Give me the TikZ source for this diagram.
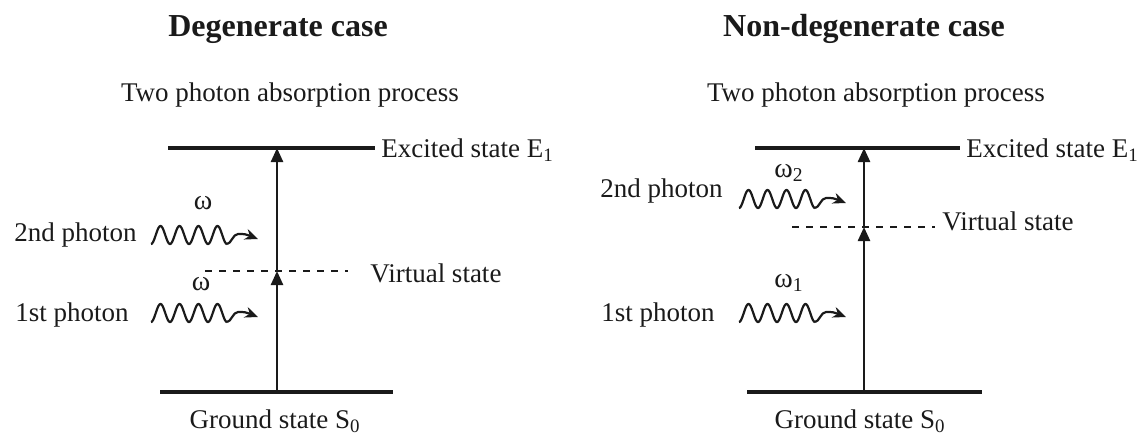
\documentclass[tikz,border=0pt]{standalone}
\usepackage{fontspec}
\setmainfont{Liberation Serif}
\usetikzlibrary{arrows.meta}
\definecolor{ink}{HTML}{1A1A1A}
\newcommand\photonwave[3]{%
  \coordinate (#3) at (#1,#2);
  \draw[wave] plot[domain=0:4,samples=120,smooth] ({#1+19*\x},{#2+9*cos(360*\x)});
  \draw[wave,-{Stealth[length=6.5pt,width=5.5pt]}] ({#1+76},{#2+9}) .. controls ({#1+80},{#2+9}) and ({#1+82},{#2-1}) .. ({#1+87},{#2-1}) .. controls ({#1+94},{#2-1}) .. ({#1+107},{#2+4});
}
\begin{document}
\begin{tikzpicture}[x=0.5pt,y=-0.5pt,
  level/.style={line width=2pt, draw=ink},
  trans/.style={line width=1.2pt, draw=ink, -{Triangle[length=7pt,width=6pt]}},
  virt/.style={line width=1pt, draw=ink, dash pattern=on 3.5pt off 3.5pt},
  wave/.style={line width=1.1pt, draw=ink, line join=round},
  lbl/.style={font=\fontsize{13.5}{16}\selectfont, text=ink, inner sep=0pt},
  ttl/.style={font=\bfseries\fontsize{16}{19}\selectfont, text=ink, inner sep=0pt},
  om/.style={font=\fontsize{14}{16}\selectfont, text=ink, inner sep=0pt}]
\path[use as bounding box] (0,0) rectangle (1140,434);

% ---------- Left: degenerate case ----------
\node[ttl, anchor=base] (Ltitle) at (278,36) {Degenerate case};
\node[lbl, anchor=base] (Lproc) at (290,101) {Two photon absorption process};

\coordinate (LEa) at (168,148); \coordinate (LEb) at (375,148);
\coordinate (LGa) at (160,392); \coordinate (LGb) at (393,392);
\coordinate (LVa) at (205,271); \coordinate (LVb) at (348,271);
\draw[level] (LEa) -- (LEb);
\draw[level] (LGa) -- (LGb);
\draw[virt] (LVa) -- (LVb);
\node[lbl, anchor=base west] (LElab) at (381,157) {Excited state E\textsubscript{1}};
\node[lbl, anchor=base west] (LVlab) at (370,282) {Virtual state};
\node[lbl, anchor=base] (LGlab) at (275,428) {Ground state S\textsubscript{0}};

\coordinate (LG) at (277,392);
\coordinate (LV) at (277,271);
\coordinate (LE) at (277,148);
\draw[trans] (LG) -- (LV);
\draw[trans] (LV) -- (LE);

\node[lbl, anchor=base east] (L2lab) at (137,241) {2nd photon};
\node[lbl, anchor=base east] (L1lab) at (129,321) {1st photon};
\photonwave{151}{235}{L2w}
\photonwave{151}{313}{L1w}
\node[om, anchor=base] (L2om) at (203,209) {ω};
\node[om, anchor=base] (L1om) at (201,290) {ω};

% ---------- Right: non-degenerate case ----------
\node[ttl, anchor=base] (Rtitle) at (864,36) {Non-degenerate case};
\node[lbl, anchor=base] (Rproc) at (876,101) {Two photon absorption process};

\coordinate (REa) at (755,148); \coordinate (REb) at (960,148);
\coordinate (RGa) at (747,392); \coordinate (RGb) at (982,392);
\coordinate (RVa) at (792,227); \coordinate (RVb) at (935,227);
\draw[level] (REa) -- (REb);
\draw[level] (RGa) -- (RGb);
\draw[virt] (RVa) -- (RVb);
\node[lbl, anchor=base west] (RElab) at (966,157) {Excited state E\textsubscript{1}};
\node[lbl, anchor=base west] (RVlab) at (942,230) {Virtual state};
\node[lbl, anchor=base] (RGlab) at (860,428) {Ground state S\textsubscript{0}};

\coordinate (RG) at (864,392);
\coordinate (RV) at (864,227);
\coordinate (RE) at (864,148);
\draw[trans] (RG) -- (RV);
\draw[trans] (RV) -- (RE);

\node[lbl, anchor=base east] (R2lab) at (723,197) {2nd photon};
\node[lbl, anchor=base east] (R1lab) at (715,321) {1st photon};
\photonwave{739}{199}{R2w}
\photonwave{739}{313}{R1w}
\node[om, anchor=base] (R2om) at (789,177) {ω\textsubscript{2}};
\node[om, anchor=base] (R1om) at (789,287) {ω\textsubscript{1}};
\end{tikzpicture}
\end{document}
